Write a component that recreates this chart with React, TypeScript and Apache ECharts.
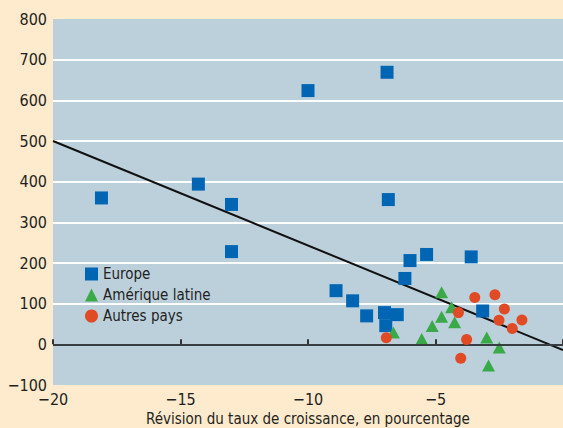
import React, { useEffect, useRef } from "react";
import * as echarts from "echarts";

const seriesNames = ["Europe", "Amérique latine", "Autres pays"];

const europe: [number, number][] = [
  [-18.1, 360], [-14.3, 394], [-13.0, 344], [-13.0, 228], [-10.0, 624],
  [-6.9, 669], [-6.85, 356], [-8.9, 132], [-8.25, 107], [-7.7, 70],
  [-7.0, 78], [-6.95, 46], [-6.5, 73], [-6.2, 162], [-6.0, 206],
  [-5.35, 221], [-3.6, 215], [-3.15, 82],
];

const ameriqueLatine: [number, number][] = [
  [-6.65, 29], [-5.54, 13], [-5.13, 45], [-4.76, 128], [-4.76, 68],
  [-4.37, 91], [-4.25, 54], [-2.99, 17], [-2.5, -8], [-2.92, -52],
];

const autresPays: [number, number][] = [
  [-6.93, 16], [-4.1, 78], [-3.78, 12], [-4.01, -34], [-3.46, 115],
  [-2.67, 122], [-2.3, 87], [-2.51, 59], [-1.99, 39], [-1.61, 60],
];

const regressionLine: [number, number][] = [[-20, 500], [0, -14]];

const xRange = { min: -20, max: 0, interval: 5 };
const yRange = { min: -100, max: 800, interval: 100 };

const xAxisTitle = "Révision du taux de croissance, en pourcentage";

const FONT = "'DejaVu Sans Condensed', 'Liberation Sans Narrow', 'Liberation Sans', Arial, sans-serif";
const TEXT = "#231f20";

const fmt = (v: number) => (v < 0 ? "\u2212" + Math.abs(v) : String(v));

export default function App() {
  const ref = useRef<HTMLDivElement>(null);
  useEffect(() => {
    if (!ref.current) return;
    const chart = echarts.init(ref.current, undefined, { renderer: "svg" });
    chart.setOption({
      animation: false,
      backgroundColor: "#feeacd",
      textStyle: { fontFamily: FONT },
      grid: {
        left: 53,
        right: 0,
        top: 19,
        bottom: 43,
        outerBoundsMode: "none",
        containLabel: false,
        show: true,
        backgroundColor: "#bcd0dc",
        borderWidth: 0,
      },
      legend: {
        orient: "vertical",
        left: 85,
        top: 266,
        padding: 0,
        itemWidth: 13,
        itemHeight: 13,
        itemGap: 5,
        textStyle: { fontFamily: FONT, fontSize: 15, color: TEXT, lineHeight: 16 },
        data: [
          { name: seriesNames[0], icon: "rect" },
          { name: seriesNames[1], icon: "triangle" },
          { name: seriesNames[2], icon: "circle" },
        ],
      },
      xAxis: {
        type: "value",
        min: xRange.min,
        max: xRange.max,
        interval: xRange.interval,
        name: xAxisTitle,
        nameLocation: "middle",
        nameGap: 26,
        nameMoveOverlap: false,
        nameTextStyle: { fontFamily: FONT, fontSize: 15, color: TEXT, lineHeight: 15 },
        axisLine: { show: false },
        axisTick: { show: true, inside: true, length: 5, lineStyle: { color: "#333", width: 2 } },
        axisLabel: {
          fontFamily: FONT,
          fontSize: 16,
          lineHeight: 16,
          color: TEXT,
          margin: 6,
          formatter: (v: number) => (v === 0 ? "" : fmt(v)),
        },
        splitLine: { show: false },
      },
      yAxis: {
        type: "value",
        min: yRange.min,
        max: yRange.max,
        interval: yRange.interval,
        axisLine: { show: false },
        axisTick: { show: false },
        axisLabel: { fontFamily: FONT, fontSize: 16, color: TEXT, margin: 6, formatter: fmt },
        splitLine: {
          show: true,
          showMinLine: false,
          showMaxLine: false,
          lineStyle: { color: "#ffffff", width: 2 },
        },
      },
      series: [
        {
          name: "Régression",
          type: "line",
          data: regressionLine,
          showSymbol: false,
          symbol: "none",
          lineStyle: { color: "#111", width: 2 },
          z: 2,
          markLine: {
            silent: true,
            symbol: "none",
            label: { show: false },
            lineStyle: { color: "#383d42", width: 2, type: "solid" },
            data: [{ yAxis: 0 }],
          },
        },
        {
          name: seriesNames[0],
          type: "scatter",
          data: europe,
          symbol: "rect",
          symbolSize: 13,
          itemStyle: { color: "#0066b3", opacity: 1 },
          z: 3,
        },
        {
          name: seriesNames[1],
          type: "scatter",
          data: ameriqueLatine,
          symbol: "triangle",
          symbolSize: [13, 12],
          itemStyle: { color: "#3aaa49", opacity: 1 },
          z: 4,
        },
        {
          name: seriesNames[2],
          type: "scatter",
          data: autresPays,
          symbol: "circle",
          symbolSize: 11,
          itemStyle: { color: "#e04a25", opacity: 1 },
          z: 5,
        },
      ],
    });
    return () => chart.dispose();
  }, []);
  return (
    <div
      ref={ref}
      style={{ position: "fixed", left: 0, top: 0, width: 563, height: 428 }}
    />
  );
}
